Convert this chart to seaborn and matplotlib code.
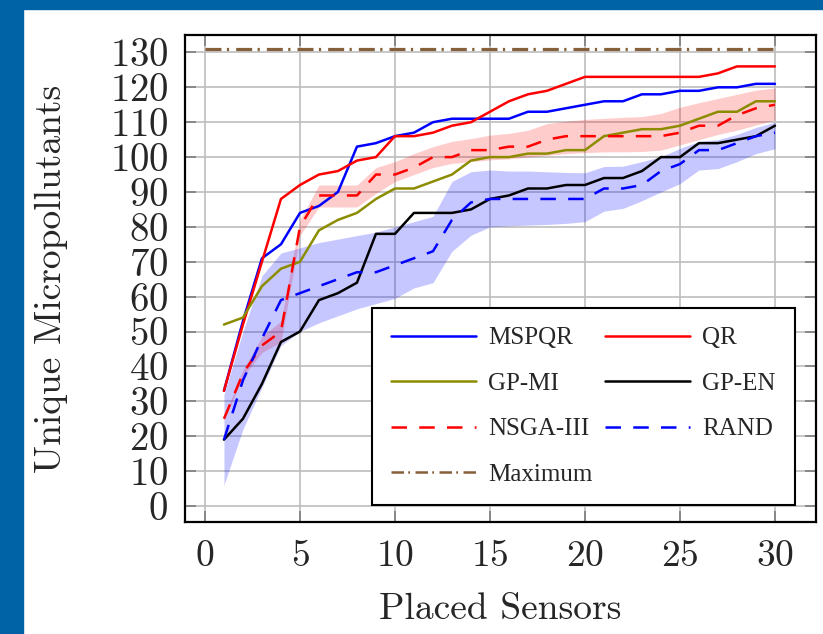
import matplotlib
matplotlib.use("Agg")
import matplotlib.pyplot as plt
import seaborn as sns
import numpy as np
import pandas as pd
from matplotlib.patches import Rectangle

sensors = list(range(1, 31))
mspqr = [33, 53, 71, 75, 84, 86, 90, 103, 104, 106, 107, 110, 111, 111, 111, 111, 113, 113, 114, 115,
         116, 116, 118, 118, 119, 119, 120, 120, 121, 121]
qr = [33, 52, 70, 88, 92, 95, 96, 99, 100, 106, 106, 107, 109, 110, 113, 116, 118, 119, 121, 123,
      123, 123, 123, 123, 123, 123, 124, 126, 126, 126]
gp_mi = [52, 54, 63, 68, 70, 79, 82, 84, 88, 91, 91, 93, 95, 99, 100, 100, 101, 101, 102, 102,
         106, 107, 108, 108, 109, 111, 113, 113, 116, 116]
gp_en = [19, 25, 35, 47, 50, 59, 61, 64, 78, 78, 84, 84, 84, 85, 88, 89, 91, 91, 92, 92,
         94, 94, 96, 100, 100, 104, 104, 105, 106, 109]
nsga = [25, 38, 46, 50, 80, 89, 89, 89, 95, 95, 97, 100, 100, 102, 102, 103, 103, 105, 106, 106,
        106, 106, 106, 106, 107, 109, 109, 112, 114, 115]
rand = [19, 36, 48, 59, 61, 63, 65, 67, 67, 69, 71, 73, 82, 87, 88, 88, 88, 88, 88, 88,
        91, 91, 92, 96, 98, 102, 102, 104, 106, 107]
nsga_hi = [25.5, 39, 48.5, 53, 82, 92, 92, 92, 97, 98.7, 101, 103, 104.5, 105.3, 106.3, 106.8, 107.7, 109.6, 110.3, 110.8,
           111.1, 111.4, 111.6, 112.5, 114.3, 115.6, 116.8, 118, 119.2, 119.8]
nsga_lo = [24.5, 37, 44, 47, 77.5, 85.7, 85.7, 85.7, 89.6, 93, 95, 97, 98.2, 98.7, 99.2, 99.5, 100, 100.5, 101, 101.3,
           101.5, 101.5, 101.6, 102, 103.5, 105, 106.5, 107.7, 109.2, 110.6]
rand_hi = [32, 50, 66, 72.5, 74, 75.5, 76.5, 77.5, 78.5, 80, 81.5, 83, 93, 95.8, 96.3, 96, 96, 95.8, 95.6, 95.5,
           97.3, 97.4, 98.7, 100.1, 102.5, 104.5, 105, 106.5, 108.5, 110]
rand_lo = [6, 22, 34, 46, 50, 52.5, 54.5, 56.5, 58, 59.5, 62.5, 64, 73, 77.6, 80, 80.3, 80.5, 80.7, 81, 81.5,
           84.5, 85.3, 87.5, 90, 92.4, 96.3, 96.7, 98.7, 101, 102.4]
max_x = [0, 30]
max_y = [131, 131]

xticks = [0, 5, 10, 15, 20, 25, 30]
yticks = list(range(0, 131, 10))

sns.set_theme(style="white")
plt.rcParams["font.family"] = ["cmr10", "DejaVu Serif"]
plt.rcParams["axes.formatter.use_mathtext"] = True

fig = plt.figure(figsize=(8.23, 6.34), dpi=100)
ax = fig.add_axes([185 / 823, 1 - 522 / 634, 631 / 823, 487 / 634])

# page frame strips
fig.patches.append(Rectangle((0, 0), 23 / 823, 1, transform=fig.transFigure, color="#0063A5", zorder=10))
fig.patches.append(Rectangle((0, 1 - 9 / 634), 1, 9 / 634, transform=fig.transFigure, color="#0063A5", zorder=10))

ax.fill_between(sensors, nsga_lo, nsga_hi, color="#FF0000", alpha=0.2, linewidth=0, zorder=2)
ax.fill_between(sensors, rand_lo, rand_hi, color="#0000FF", alpha=0.22, linewidth=0, zorder=2)

lw = 1.8
h = {}
sns.lineplot(x=sensors, y=mspqr, ax=ax, color="#0000FF", lw=lw, zorder=3)
h["MSPQR"] = ax.lines[-1]
sns.lineplot(x=sensors, y=qr, ax=ax, color="#FF0000", lw=lw, zorder=3)
h["QR"] = ax.lines[-1]
sns.lineplot(x=sensors, y=gp_mi, ax=ax, color="#8C8C00", lw=lw, zorder=3)
h["GP-MI"] = ax.lines[-1]
sns.lineplot(x=sensors, y=gp_en, ax=ax, color="black", lw=lw, zorder=3)
h["GP-EN"] = ax.lines[-1]
sns.lineplot(x=sensors, y=nsga, ax=ax, color="#FF0000", lw=lw, zorder=3)
h["NSGA-III"] = ax.lines[-1]
h["NSGA-III"].set_dashes((6.2, 4.9))
sns.lineplot(x=sensors, y=rand, ax=ax, color="#0000FF", lw=lw, zorder=3)
h["RAND"] = ax.lines[-1]
h["RAND"].set_dashes((6.2, 4.9))
sns.lineplot(x=max_x, y=max_y, ax=ax, color="#86603A", lw=2.3, zorder=3)
h["Maximum"] = ax.lines[-1]
h["Maximum"].set_dashes((5.0, 1.7, 0.7, 2.2))

ax.set_xlim(-1.05, 32.16)
ax.set_ylim(-4.6, 135)
ax.set_xticks(xticks)
ax.set_yticks(yticks)
ax.grid(True, color="#BEBEBE", linewidth=1.2, zorder=0)
ax.set_axisbelow(True)
for s in ax.spines.values():
    s.set_color("black")
    s.set_linewidth(1.6)
    s.set_visible(True)
ax.tick_params(axis="both", which="major", direction="in", length=8, width=1.1, color="#777777",
               top=True, right=True, bottom=True, left=True)
ax.tick_params(axis="y", pad=12, labelsize=28)
ax.tick_params(axis="x", pad=13, labelsize=27)

ax.set_xlabel("Placed Sensors", fontsize=27, labelpad=14)
ax.set_ylabel("Unique Micropollutants", fontsize=27, labelpad=30)

order = ["MSPQR", "GP-MI", "NSGA-III", "Maximum", "QR", "GP-EN", "RAND"]
leg = ax.legend([h[k] for k in order], order, loc="upper left", bbox_to_anchor=(0.296, 0.439), ncol=2,
                frameon=True, fancybox=False, framealpha=1, edgecolor="black",
                prop={"family": "Liberation Serif", "size": 18},
                handlelength=3.4, handletextpad=0.5, labelspacing=0.92, borderpad=0.75, columnspacing=0.5,
                borderaxespad=0)
leg.get_frame().set_linewidth(1.5)
for ln in leg.get_lines():
    ln.set_linewidth(1.8)

fig.savefig("out.png", dpi=100)
